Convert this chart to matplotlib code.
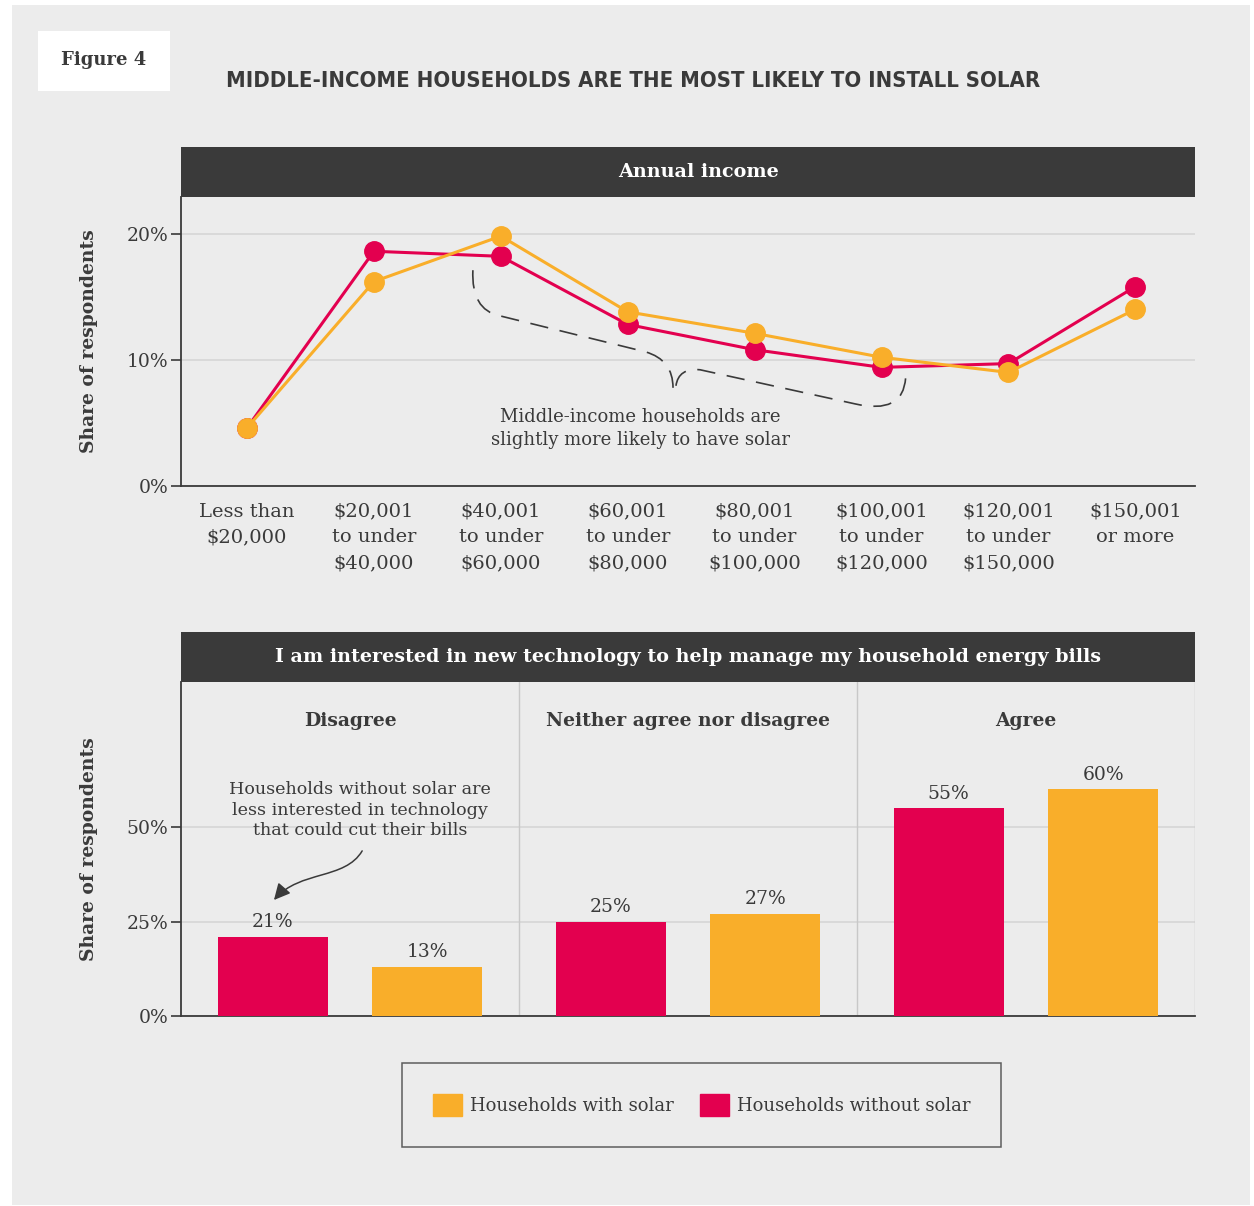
import matplotlib
matplotlib.use("Agg")
import matplotlib.pyplot as plt
from matplotlib import font_manager
from matplotlib.patches import Rectangle, Patch, PathPatch, FancyArrowPatch
from matplotlib.path import Path

# Data
income_labels = ["Less than\n$20,000", "$20,001\nto under\n$40,000", "$40,001\nto under\n$60,000",
                 "$60,001\nto under\n$80,000", "$80,001\nto under\n$100,000", "$100,001\nto under\n$120,000",
                 "$120,001\nto under\n$150,000", "$150,001\nor more"]
income_with_solar = [4.6, 16.2, 19.8, 13.8, 12.1, 10.2, 9.0, 14.0]
income_without_solar = [4.6, 18.6, 18.2, 12.8, 10.8, 9.4, 9.7, 15.8]

responses = ["Disagree", "Neither agree nor disagree", "Agree"]
interest_without_solar = [21, 25, 55]
interest_with_solar = [13, 27, 60]

RED = "#e3004f"
ORANGE = "#f9ae2a"
DARK = "#3a3a3a"
BG = "#ececec"
GRID = "#d6d6d6"

names = {f.name for f in font_manager.fontManager.ttflist}
serif = "DejaVu Serif"
title_font = "Liberation Sans Narrow" if "Liberation Sans Narrow" in names else "DejaVu Sans"

W, H = 1254, 1206
fig = plt.figure(figsize=(W / 100, H / 100), dpi=100, facecolor="white")


def rect(left, top, right, bottom):
    # pixel box -> figure fraction
    return [left / W, 1 - bottom / H, (right - left) / W, (bottom - top) / H]


# grey panel + "Figure 4" tag
fig.patches.append(Rectangle((12 / W, 1 - 1205 / H), 1238 / W, 1200 / H, transform=fig.transFigure,
                             facecolor=BG, edgecolor="none", zorder=-3))
fig.patches.append(Rectangle((38 / W, 1 - 91 / H), 132 / W, 60 / H, transform=fig.transFigure,
                             facecolor="white", edgecolor="none", zorder=-2))
fig.text(104 / W, 1 - 60 / H, "Figure 4", family=serif, weight="bold", fontsize=13, color=DARK,
         ha="center", va="center")
fig.text(633 / W, 1 - 81 / H, "MIDDLE-INCOME HOUSEHOLDS ARE THE MOST LIKELY TO INSTALL SOLAR",
         family=title_font, weight="bold", fontsize=15.8, color=DARK, ha="center", va="center",
         fontstretch="condensed")

# header bars
for top, bottom, cx, label in [(147, 197, 699, "Annual income"),
                               (632, 682, 688, "I am interested in new technology to help manage my household energy bills")]:
    fig.patches.append(Rectangle((181 / W, 1 - bottom / H), 1014 / W, (bottom - top) / H,
                                 transform=fig.transFigure, facecolor=DARK, edgecolor="none", zorder=-2))
    fig.text(cx / W, 1 - (top + bottom) / 2 / H, label, family=serif, weight="bold", fontsize=13.8,
             color="white", ha="center", va="center")


def style_axis(ax):
    ax.set_facecolor("none")
    for s in ["top", "right"]:
        ax.spines[s].set_visible(False)
    ax.spines["left"].set_color(DARK)
    ax.spines["bottom"].set_color(DARK)
    ax.spines["left"].set_linewidth(1.3)
    ax.spines["bottom"].set_linewidth(1.3)
    ax.tick_params(axis="y", length=7, width=1.2, color=DARK, labelsize=13.5, labelcolor=DARK, pad=2)
    ax.yaxis.grid(True, color=GRID, linewidth=1.2)
    ax.set_axisbelow(True)
    for t in ax.get_yticklabels():
        t.set_family(serif)
    ax.set_ylabel("Share of respondents", family=serif, weight="bold", fontsize=13.5, color=DARK)
    ax.yaxis.set_label_coords(-0.082, 0.5)


# ---- top: line chart by income
ax1 = fig.add_axes(rect(181, 197, 1195, 486))
x = range(len(income_labels))
ax1.plot(x, income_without_solar, color=RED, lw=2.2, marker="o", ms=14, zorder=3)
ax1.plot(x, income_with_solar, color=ORANGE, lw=2.2, marker="o", ms=14, zorder=4)
ax1.set_xlim(-0.52, 7.47)
ax1.set_ylim(0, 22.9)
ax1.set_yticks([0, 10, 20])
ax1.set_yticklabels(["0%", "10%", "20%"])
ax1.set_xticks(list(x))
ax1.set_xticklabels(income_labels, family=serif, fontsize=14, color=DARK, va="top", linespacing=1.55)
ax1.tick_params(axis="x", length=0, pad=12)
style_axis(ax1)

# dashed brace annotation
verts = [(1.78, 17.1), (1.765, 13.97), (1.99, 13.49),
         (3.14, 10.63),
         (3.357, 10.0), (3.357, 7.78),
         (3.38, 7.94), (3.40, 9.37), (3.57, 9.21),
         (4.79, 6.51),
         (5.17, 5.63), (5.19, 8.57)]
codes = [Path.MOVETO, Path.CURVE3, Path.CURVE3, Path.LINETO, Path.CURVE3, Path.CURVE3,
         Path.MOVETO, Path.CURVE3, Path.CURVE3, Path.LINETO, Path.CURVE3, Path.CURVE3]
ax1.add_patch(PathPatch(Path(verts, codes), facecolor="none", edgecolor=DARK, lw=1.2,
                        linestyle=(0, (11, 7)), zorder=2))
ax1.text(3.1, 4.55, "Middle-income households are\nslightly more likely to have solar", family=serif,
         fontsize=13, color=DARK, ha="center", va="center", linespacing=1.35)

# ---- bottom: bars by interest
ax2 = fig.add_axes(rect(181, 682, 1195, 1016))
pos = range(len(responses))
off, bw = 0.229, 0.325
bars_red = ax2.bar([p - off for p in pos], interest_without_solar, bw, color=RED, zorder=3)
bars_or = ax2.bar([p + off for p in pos], interest_with_solar, bw, color=ORANGE, zorder=3)
for bars in (bars_red, bars_or):
    for b in bars:
        ax2.annotate(f"{b.get_height():.0f}%", (b.get_x() + b.get_width() / 2, b.get_height()),
                     xytext=(0, 4), textcoords="offset points", ha="center", va="bottom",
                     family=serif, fontsize=13.5, color=DARK)
ax2.set_xlim(-0.5, 2.5)
ax2.set_ylim(0, 88.4)
ax2.set_yticks([0, 25, 50])
ax2.set_yticklabels(["0%", "25%", "50%"])
ax2.set_xticks([])
style_axis(ax2)
for sep in [0.5, 1.5, 2.5]:
    ax2.axvline(sep, color="#c8c8c8", lw=1, zorder=1)
for p, r in zip(pos, responses):
    ax2.text(p, 78, r, family=serif, weight="bold", fontsize=13.5, color=DARK, ha="center", va="center")

ax2.text(0.03, 54.5, "Households without solar are\nless interested in technology\nthat could cut their bills",
         family=serif, fontsize=12.6, color=DARK, ha="center", va="center", linespacing=1.25)
arrow_path = Path([(0.036, 43.7), (-0.015, 36.0), (-0.148, 38.6), (-0.225, 30.7)],
                  [Path.MOVETO, Path.CURVE4, Path.CURVE4, Path.CURVE4])
ax2.add_patch(FancyArrowPatch(path=arrow_path, arrowstyle="-|>,head_length=0.7,head_width=0.35",
                              color=DARK, lw=1.1, mutation_scale=14, zorder=4))

# legend
handles = [Patch(color=ORANGE, label="Households with solar"),
           Patch(color=RED, label="Households without solar")]
leg = fig.legend(handles=handles, loc="center", bbox_to_anchor=(701.5 / W, 1 - 1105 / H), ncol=2,
                 frameon=True, fancybox=False, prop={"family": serif, "size": 13},
                 handlelength=1.6, handleheight=1.55, handletextpad=0.45, columnspacing=1.45,
                 borderpad=1.7, borderaxespad=0)
leg.get_frame().set_edgecolor(DARK)
leg.get_frame().set_facecolor(BG)
leg.get_frame().set_linewidth(1.1)
for t in leg.get_texts():
    t.set_color(DARK)

fig.savefig("out.png", dpi=100, facecolor="white")
